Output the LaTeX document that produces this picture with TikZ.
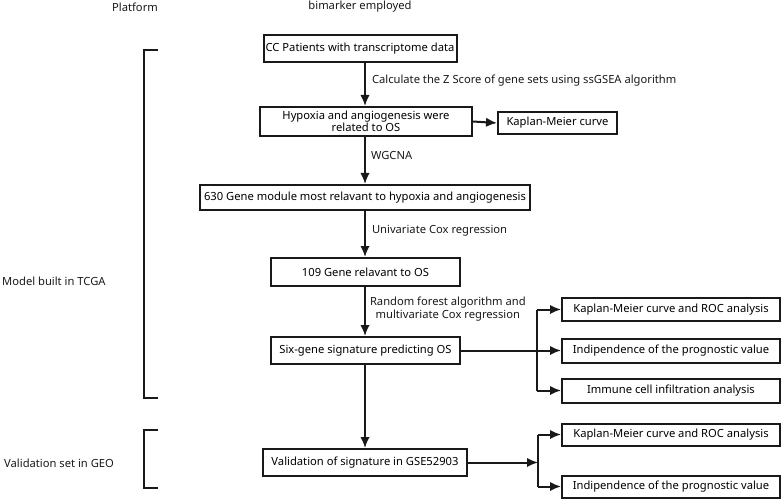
\documentclass[tikz,border=0pt]{standalone}
\usepackage{fontspec}
\setmainfont{Noto Sans}
\usetikzlibrary{arrows.meta}
\begin{document}
\begin{tikzpicture}[x=1pt,y=-1pt,
  box/.style={draw=black!90,line width=2pt,rectangle,inner sep=0pt,align=center,font=\fontsize{11.2}{12.5}\selectfont},
  lbl/.style={inner sep=0pt,align=center,font=\fontsize{11.2}{12.5}\selectfont,text=black!90},
  conn/.style={draw=black!90,line width=2pt},
  arr/.style={conn,-{Latex[length=11pt,width=9.5pt]}},
  brk/.style={draw=black!90,line width=2pt}]
\useasboundingbox (0,0) rectangle (782,500);
% headers
\node[lbl] (hplat) at (135,7) {Platform};
\node[lbl] (hbio) at (360,7) {bimarker employed};
% side labels
\node[lbl,anchor=west] (tcga) at (2,281) {Model built in TCGA};
\node[lbl,anchor=west] (geo) at (4,463) {Validation set in GEO};
% brackets
\draw[brk] (158,50) -- (144,50) -- (144,398) -- (158,398);
\draw[brk] (158,430) -- (144,430) -- (144,488) -- (158,488);
% main boxes
\node[box,minimum width=193pt,minimum height=27pt] (b1) at (360,49) {CC Patients with transcriptome data};
\node[box,minimum width=212pt,minimum height=29pt,font=\fontsize{11.2}{12}\selectfont] (b2) at (366,121.5) {Hypoxia and angiogenesis were\\related to OS};
\node[box,minimum width=119pt,minimum height=22pt] (km1) at (557.5,123) {Kaplan-Meier curve};
\node[box,minimum width=330pt,minimum height=25pt] (b3) at (365,197.5) {630 Gene module most relavant to hypoxia and angiogenesis};
\node[box,minimum width=189pt,minimum height=28pt] (b4) at (365.5,272) {109 Gene relavant to OS};
\node[box,minimum width=189pt,minimum height=27pt] (b5) at (365.5,350.5) {Six-gene signature predicting OS};
\node[box,minimum width=204pt,minimum height=27pt] (b6) at (365,462.5) {Validation of signature in GSE52903};
% right boxes
\node[box,minimum width=218pt,minimum height=23pt] (r1) at (671,309.5) {Kaplan-Meier curve and ROC analysis};
\node[box,minimum width=218pt,minimum height=24pt] (r2) at (671,350.5) {Indipendence of the prognostic value};
\node[box,minimum width=218pt,minimum height=24pt] (r3) at (671,390.5) {Immune cell infiltration analysis};
\node[box,minimum width=218pt,minimum height=22pt] (r4) at (671,434.5) {Kaplan-Meier curve and ROC analysis};
\node[box,minimum width=218pt,minimum height=22pt] (r5) at (671,486.5) {Indipendence of the prognostic value};
% junctions
\coordinate (j1) at (537,350.5);
\coordinate (j2) at (538,462.5);
% vertical arrows
\draw[arr] (b1.south -| 365,0) -- (b2.north -| 365,0) node[lbl,midway,anchor=west,xshift=6pt,yshift=4pt] (l1) {Calculate the Z Score of gene sets using ssGSEA algorithm};
\draw[arr] (b2.south -| 365,0) -- (b3.north -| 365,0) node[lbl,midway,anchor=west,xshift=5pt,yshift=4.5pt] (l2) {WGCNA};
\draw[arr] (b3.south -| 365,0) -- (b4.north -| 365,0) node[lbl,midway,anchor=west,xshift=6pt,yshift=3pt] (l3) {Univariate Cox regression};
\draw[arr] (b4.south -| 365,0) -- (b5.north -| 365,0) node[lbl,midway,anchor=west,xshift=4pt,yshift=2pt,font=\fontsize{11.2}{13}\selectfont] (l4) {Random forest algorithm and\\multivariate Cox regression};
\draw[arr] (b5.south -| 365,0) -- (b6.north -| 365,0);
% horizontal
\draw[arr] (b2.east) -- (km1.west);
\draw[arr] (b5.east) -- (r2.west);
\draw[conn] (j1 |- r1.west) -- (j1 |- r3.west);
\draw[arr] (j1 |- r1.west) -- (r1.west);
\draw[arr] (j1 |- r3.west) -- (r3.west);
\draw[arr] (b6.east) -- (j2);
\draw[conn] (j2 |- r4.west) -- (j2 |- r5.west);
\draw[arr] (j2 |- r4.west) -- (r4.west);
\draw[arr] (j2 |- r5.west) -- (r5.west);
\end{tikzpicture}
\end{document}
